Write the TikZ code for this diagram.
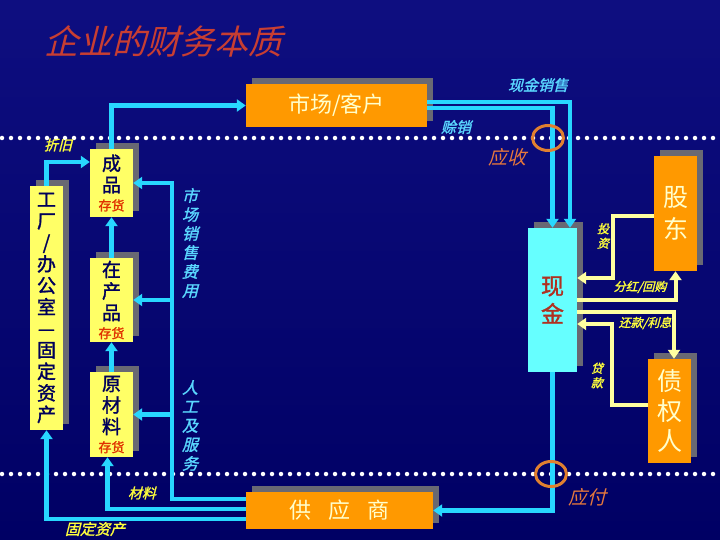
\documentclass[tikz,border=0pt]{standalone}
\usepackage{fontspec}
\setmainfont{Noto Sans CJK SC}
\newfontfamily\cjkbf[FakeBold=1.5]{Noto Sans CJK SC}
\newfontfamily\cjkit[FakeSlant=0.25]{Noto Sans CJK SC}
\newfontfamily\cjkbit[FakeSlant=0.25,FakeBold=1.5]{Noto Sans CJK SC}
\usetikzlibrary{arrows.meta,shadows,shapes.geometric}
\definecolor{bgtop}{RGB}{14,14,128}
\definecolor{bgmid}{RGB}{0,0,232}
\definecolor{bgbot}{RGB}{0,0,100}
\definecolor{boxyellow}{RGB}{255,255,102}
\definecolor{boxorange}{RGB}{255,153,0}
\definecolor{boxcyan}{RGB}{102,255,255}
\definecolor{shadowgray}{RGB}{105,105,115}
\definecolor{navytext}{RGB}{0,0,90}
\definecolor{stockred}{RGB}{224,50,0}
\definecolor{cream}{RGB}{255,255,204}
\definecolor{cashtext}{RGB}{176,48,32}
\definecolor{arrowcyan}{RGB}{40,215,255}
\definecolor{arrowyellow}{RGB}{255,255,160}
\definecolor{lblcyan}{RGB}{90,215,255}
\definecolor{lblyellow}{RGB}{255,255,60}
\definecolor{lblorange}{RGB}{230,120,60}
\definecolor{ringorange}{RGB}{225,128,48}
\definecolor{titlered}{RGB}{200,62,50}
\newcommand\cunhuo{{\fontsize{13}{13}\selectfont\color{stockred}存货}}
\begin{document}
\begin{tikzpicture}[x=1pt,y=-1pt,
  box/.style={inner sep=0pt, align=center,
    drop shadow={shadow xshift=6pt, shadow yshift=6pt, fill=shadowgray, opacity=1}},
  ybox/.style={box, fill=boxyellow, text=navytext, font=\cjkbf\fontsize{19}{21.5}\selectfont},
  obox/.style={box, fill=boxorange, text=cream},
  cline/.style={draw=arrowcyan, line width=4.5pt},
  carrow/.style={cline, -{Triangle[length=9pt,width=12pt]}},
  yline/.style={draw=arrowyellow, line width=4pt},
  yarrow/.style={yline, -{Triangle[length=9pt,width=12pt]}},
  dotline/.style={draw=white, line width=4.5pt, line cap=round, dash pattern=on 0pt off 9pt},
  ring/.style={ellipse, draw=ringorange, line width=3pt, minimum width=31pt, minimum height=25pt, inner sep=0pt},
  lbl/.style={inner sep=0pt, align=center},
  cyanlbl/.style={lbl, text=lblcyan, font=\cjkbit\fontsize{15}{19}\selectfont},
  yellbl/.style={lbl, text=lblyellow, font=\cjkbit\fontsize{14}{15}\selectfont},
  orlbl/.style={lbl, text=lblorange, font=\cjkit\fontsize{19}{20}\selectfont},
]
\useasboundingbox (0,0) rectangle (720,540);
\shade[top color=bgtop, middle color=bgmid, bottom color=bgbot] (0,0) rectangle (720,540);

% title
\node[lbl, text=titlered, font=\cjkit\fontsize{34}{36}\selectfont] (title) at (163,41) {企业的财务本质};

% dotted lines
\draw[dotline] (2,138) -- (720,138);
\draw[dotline] (2,474) -- (720,474);

% boxes
\node[obox, minimum width=181pt, minimum height=43pt, font=\fontsize{22}{24}\selectfont] (market) at (336.5,105.5) {市场/客户};
\node[ybox, minimum width=43pt, minimum height=68pt] (cp) at (111.5,183) {成\\品\\[-3pt]\cunhuo};
\node[ybox, minimum width=43pt, minimum height=84pt] (zcp) at (111.5,300) {在\\产\\品\\[-3pt]\cunhuo};
\node[ybox, minimum width=43pt, minimum height=85pt] (ycl) at (111.5,414.5) {原\\材\\料\\[-3pt]\cunhuo};
\node[ybox, minimum width=33pt, minimum height=244pt] (factory) at (46.5,308) {工\\厂\\/\\办\\公\\室\\—\\固\\定\\资\\产};
\node[box, fill=boxcyan, text=cashtext, minimum width=49pt, minimum height=144pt, font=\cjkbf\fontsize{23}{28}\selectfont] (cash) at (552.5,300) {现\\金};
\node[obox, minimum width=43pt, minimum height=115pt, font=\fontsize{25}{32}\selectfont] (gudong) at (675.5,213.5) {股\\东};
\node[obox, minimum width=43pt, minimum height=104pt, font=\fontsize{25}{30}\selectfont] (zqr) at (669.5,411) {债\\权\\人};
\node[obox, minimum width=187pt, minimum height=37pt, font=\fontsize{22}{24}\selectfont] (supplier) at (339.5,510.5) {供\hspace{17pt}应\hspace{17pt}商};

% cyan connectors, left side
\draw[carrow] (cp.north) |- (market.west);
\draw[carrow] (factory.north) |- ([yshift=21pt]cp.west);
\draw[carrow] (zcp.north) -- (cp.south);
\draw[carrow] (ycl.north) -- (zcp.south);
\coordinate (busTop) at (172,183);
\draw[carrow] ([yshift=11.5pt]supplier.west) -| (busTop) -- (cp.east);
\draw[carrow] (zcp.east -| busTop) -- (zcp.east);
\draw[carrow] (ycl.east -| busTop) -- (ycl.east);
\draw[carrow] ([yshift=1.5pt]supplier.west) -| ([xshift=-4pt]ycl.south);
\draw[carrow] ([yshift=-8.5pt]supplier.west) -| (factory.south);

% cyan connectors, right side
\draw[carrow] ([yshift=3.5pt]market.east) -| ([xshift=17.5pt]cash.north);
\draw[carrow] ([yshift=-2.5pt]market.east) -| (cash.north);
\draw[carrow] (cash.south) |- (supplier.east);

% yellow connectors
\draw[yarrow] ([yshift=-2.5pt]gudong.west) -- ++(-41,0) |- ([yshift=22pt]cash.east);
\draw[yarrow] (cash.east) -| (gudong.south);
\draw[yarrow] ([yshift=-12pt]cash.east) -| ([xshift=4.5pt]zqr.north);
\draw[yarrow] ([yshift=6pt]zqr.west) -- ++(-36,0) |- ([yshift=-24pt]cash.east);

% rings
\node[ring] (ring1) at (548,138) {};
\node[ring] (ring2) at (551,474) {};

% labels
\node[cyanlbl] (lxjxs) at (538,85) {现金销售};
\node[cyanlbl] (lsx) at (456,127) {赊销};
\node[orlbl] (lys) at (507,157) {应收};
\node[orlbl] (lyf) at (587,497) {应付};
\node[cyanlbl, font=\cjkbit\fontsize{16}{19}\selectfont] (lscxs) at (190,243) {市\\场\\销\\售\\费\\用};
\node[cyanlbl, font=\cjkbit\fontsize{16}{19}\selectfont] (lrg) at (190,425.5) {人\\工\\及\\服\\务};
\node[yellbl] (lzj) at (58,145) {折旧};
\node[yellbl] (lcl) at (142,493) {材料};
\node[yellbl, font=\cjkbit\fontsize{15}{16}\selectfont] (lgdzc) at (95,529) {固定资产};
\node[yellbl, font=\cjkbit\fontsize{12}{14.5}\selectfont] (ltz) at (603,236) {投\\资};
\node[yellbl, font=\cjkbit\fontsize{12}{14.5}\selectfont] (ldk) at (597,375.5) {贷\\款};
\node[yellbl, font=\cjkbit\fontsize{12}{13}\selectfont] (lfh) at (640,287) {分红/回购};
\node[yellbl, font=\cjkbit\fontsize{12}{13}\selectfont] (lhk) at (645,323) {还款/利息};
\end{tikzpicture}
\end{document}
